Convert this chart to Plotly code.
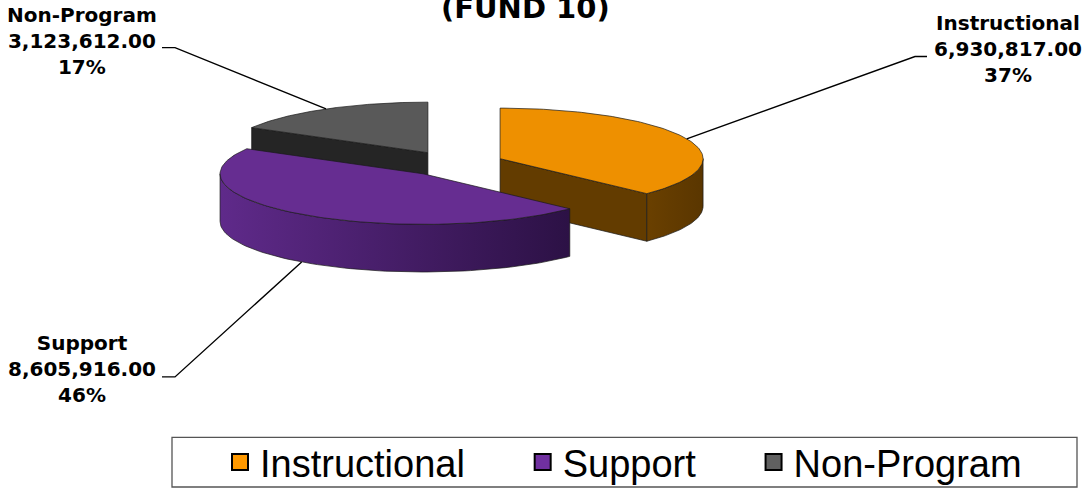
import numpy as np
import plotly.graph_objects as go

# ---------------- data ----------------
categories = ["Instructional", "Support", "Non-Program"]
amounts = [6930817.00, 8605916.00, 3123612.00]
title_text = "(FUND 10)"

# ---------------- styles ----------------
top_colors = ["#EE9000", "#662D91", "#595959"]
side_colors = ["#633C00", "#4A2070", "#252525"]
wall_gradients = [
    [[0, "#6A4000"], [1, "#5A3600"]],
    [[0, "#5F2A8A"], [1, "#2C1145"]],
    [[0, "#2A2A2A"], [1, "#202020"]],
]
legend_colors = ["#FF9900", "#7030A0", "#606060"]

# pseudo-3D pie geometry (pixels; axes mapped 1:1 to the page)
CX, CY = 453.4, 165.0
RX, RY = 203.0, 51.0
DEPTH = 48.0
EXPLODE = 0.25

# label placement (layout)
label_centers = {"Instructional": (1008, 49), "Support": (82, 372), "Non-Program": (82, 41)}
leader_starts = {
    "Instructional": [(927, 57), (915, 57)],
    "Support": [(162, 380), (175, 380)],
    "Non-Program": [(162, 48), (175, 48)],
}

W, H = 1084, 494
total = sum(amounts)
fracs = [a / total for a in amounts]
starts = np.concatenate([[0], np.cumsum(fracs)[:-1]]) * 360.0
ends = np.cumsum(fracs) * 360.0
mids = (starts + ends) / 2.0


def rim(ox, oy, th_deg, dy=0.0):
    t = np.radians(th_deg)
    return ox + RX * np.sin(t), oy - RY * np.cos(t) + dy


def origin(mid_deg):
    t = np.radians(mid_deg)
    return CX + EXPLODE * RX * np.sin(t), CY - EXPLODE * RY * np.cos(t)


fig = go.Figure()
line_style = dict(color="#1a1a1a", width=0.7)

order = sorted(range(len(categories)), key=lambda i: -np.cos(np.radians(mids[i])))
for i in order:
    a, b, m = starts[i], ends[i], mids[i]
    ox, oy = origin(m)
    # radial faces (visible ones)
    for phi, nrm in ((a, a - 90), (b, b + 90)):
        if np.cos(np.radians(nrm)) < -1e-6:
            rx_, ry_ = rim(ox, oy, phi)
            xs = [ox, rx_, rx_, ox, ox]
            ys = [oy, ry_, ry_ + DEPTH, oy + DEPTH, oy]
            fig.add_trace(go.Scatter(x=xs, y=ys, mode="lines", fill="toself",
                                     fillcolor=side_colors[i], line=line_style,
                                     showlegend=False, hoverinfo="skip"))
    # outer wall (front half)
    lo, hi = max(a, 90.0), min(b, 270.0)
    if hi > lo:
        th = np.linspace(lo, hi, 80)
        tx, ty = rim(ox, oy, th)
        bx, by = rim(ox, oy, th[::-1], DEPTH)
        xs = np.concatenate([tx, bx, tx[:1]])
        ys = np.concatenate([ty, by, ty[:1]])
        fig.add_trace(go.Scatter(x=xs, y=ys, mode="lines", fill="toself",
                                 fillgradient=dict(type="horizontal", colorscale=wall_gradients[i]),
                                 line=line_style, showlegend=False, hoverinfo="skip"))
    # top face
    th = np.linspace(a, b, 120)
    tx, ty = rim(ox, oy, th)
    xs = np.concatenate([[ox], tx, [ox]])
    ys = np.concatenate([[oy], ty, [oy]])
    fig.add_trace(go.Scatter(x=xs, y=ys, mode="lines", fill="toself",
                             fillcolor=top_colors[i], line=line_style,
                             showlegend=False, hoverinfo="skip"))

# leader lines + labels
annotations = []
for i, cat in enumerate(categories):
    ox, oy = origin(mids[i])
    dy = DEPTH if np.cos(np.radians(mids[i])) < 0 else 0.0
    px, py = rim(ox, oy, mids[i], dy)
    pts = leader_starts[cat] + [(px, py)]
    fig.add_trace(go.Scatter(x=[p[0] for p in pts], y=[p[1] for p in pts], mode="lines",
                             line=dict(color="black", width=1.4),
                             showlegend=False, hoverinfo="skip"))
    pct = round(amounts[i] / total * 100)
    lx, ly = label_centers[cat]
    annotations.append(dict(
        x=lx, y=ly, xref="x", yref="y", showarrow=False, align="center",
        xanchor="center", yanchor="middle",
        text=f"<b>{cat}</b><br><b>{amounts[i]:,.2f}</b><br><b>{pct}%</b>",
        font=dict(family="DejaVu Sans", size=20, color="black"),
    ))

annotations.append(dict(
    x=525, y=8, xref="x", yref="y", showarrow=False, xanchor="center", yanchor="middle",
    text=f"<b>{title_text}</b>", font=dict(family="DejaVu Sans", size=29, color="black"),
))

# legend entries
pads = ["\u00a0" * 5, "\u00a0" * 5, ""]
for i, cat in enumerate(categories):
    fig.add_trace(go.Scatter(x=[None], y=[None], mode="markers", name=cat + pads[i],
                             marker=dict(symbol="square", size=16, color=legend_colors[i],
                                         line=dict(color="black", width=2)),
                             hoverinfo="skip"))

fig.update_layout(
    width=W, height=H,
    margin=dict(l=0, r=0, t=0, b=0),
    paper_bgcolor="white", plot_bgcolor="white",
    xaxis=dict(range=[0, W], visible=False, fixedrange=True),
    yaxis=dict(range=[H, 0], visible=False, fixedrange=True),
    showlegend=True,
    legend=dict(orientation="h", x=(241 - 21) / W, xanchor="left",
                y=1 - 466 / H, yanchor="middle",
                bgcolor="rgba(0,0,0,0)", borderwidth=0,
                font=dict(family="Liberation Sans", size=38, color="black")),
    shapes=[dict(type="rect", xref="x", yref="y", x0=172, x1=1077, y0=441, y1=491,
                 line=dict(color="#555555", width=1.3), fillcolor="rgba(0,0,0,0)")],
    annotations=annotations,
    hovermode=False,
)

fig.write_html("out.html")
